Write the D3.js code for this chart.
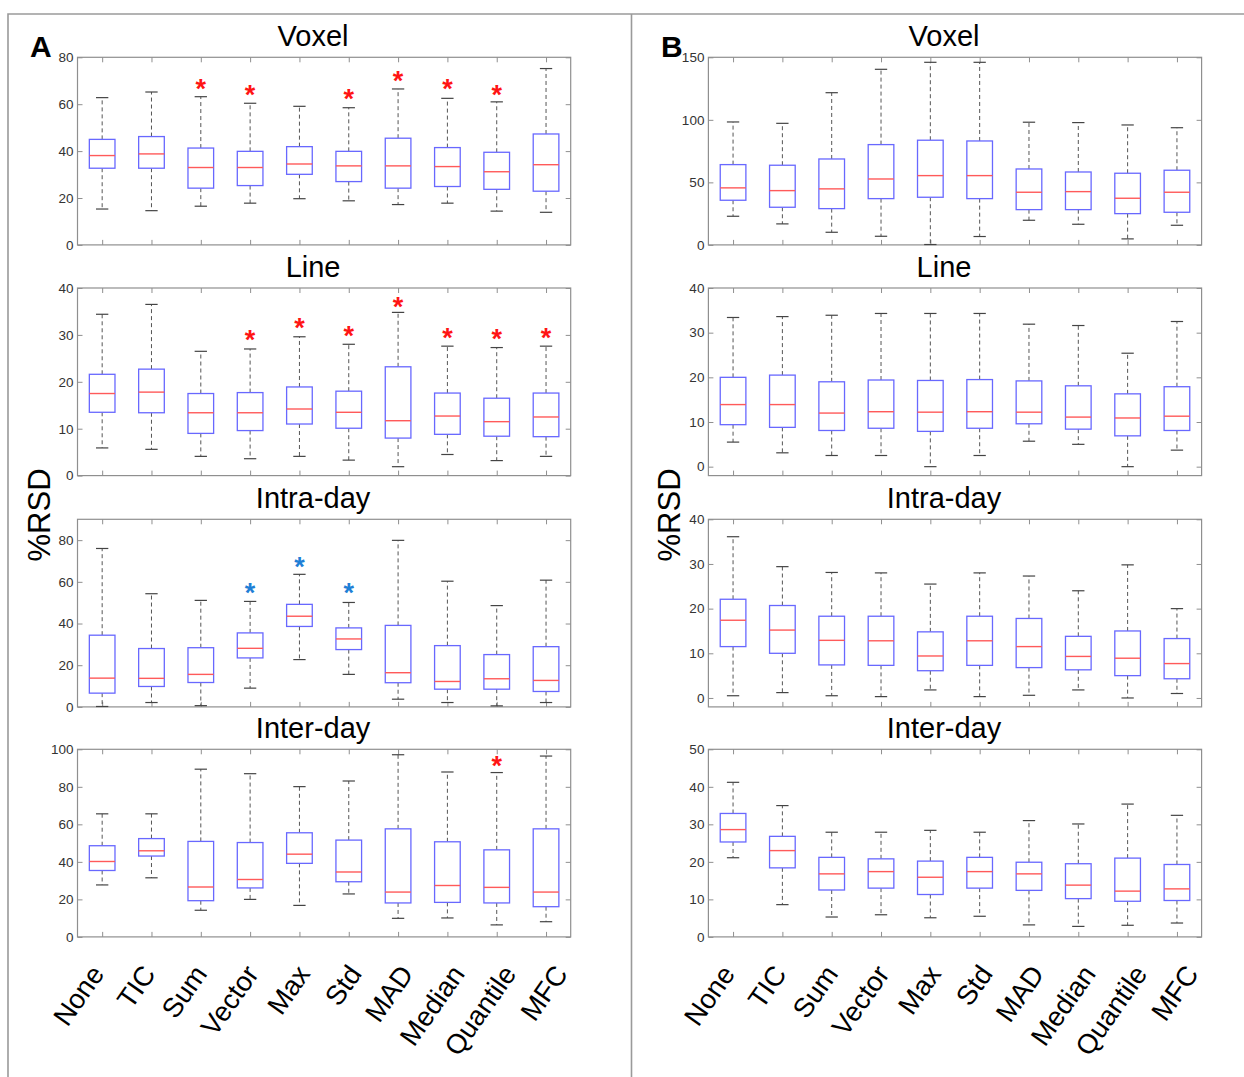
<!DOCTYPE html>
<html>
<head>
<meta charset="utf-8">
<script src="https://cdn.jsdelivr.net/npm/d3@7"></script>
<style>
  body { margin: 0; background: #fff; }
  svg { display: block; }
  text { font-family: "Liberation Sans", Arial, Helvetica, sans-serif; }
</style>
</head>
<body>
<svg id="chart"></svg>
<script>
var categories = ["None", "TIC", "Sum", "Vector", "Max", "Std", "MAD", "Median", "Quantile", "MFC"];
var rowTitles = ["Voxel", "Line", "Intra-day", "Inter-day"];

// each entry: [whisker low, Q1, median, Q3, whisker high]
var aVoxel = [[15.3, 32.7, 38.1, 45.0, 62.8], [14.6, 32.7, 38.8, 46.2, 65.2], [16.5, 24.2, 33.0, 41.3, 63.2],
  [17.8, 25.3, 33.0, 39.9, 60.4], [19.7, 30.1, 34.5, 41.9, 59.1], [18.8, 27.0, 33.7, 39.9, 58.5],
  [17.2, 24.2, 33.7, 45.5, 66.5], [17.8, 24.9, 33.4, 41.5, 62.5], [14.4, 23.7, 31.2, 39.5, 61.0],
  [13.9, 22.9, 34.2, 47.3, 75.2]];
var aLine = [[5.9, 13.5, 17.5, 21.6, 34.4], [5.6, 13.4, 17.8, 22.7, 36.5], [4.1, 9.0, 13.4, 17.5, 26.5],
  [3.6, 9.6, 13.4, 17.7, 27.0], [4.1, 11.0, 14.2, 18.9, 29.6], [3.3, 10.1, 13.5, 18.0, 28.0],
  [1.9, 8.0, 11.7, 23.2, 34.8], [4.5, 8.8, 12.7, 17.6, 27.6], [3.2, 8.4, 11.5, 16.5, 27.3],
  [4.1, 8.3, 12.5, 17.6, 27.6]];
var aIntra = [[0.2, 6.6, 13.8, 34.4, 76.0], [2.1, 9.8, 13.7, 28.0, 54.3], [0.6, 11.7, 15.6, 28.4, 51.1],
  [9.0, 23.5, 28.1, 35.5, 50.6], [22.7, 38.6, 43.5, 49.2, 63.6], [15.6, 27.5, 32.6, 37.9, 50.1],
  [3.7, 11.6, 16.4, 39.1, 79.9], [2.1, 8.5, 12.2, 29.4, 60.3], [0.5, 8.5, 13.5, 25.1, 48.6],
  [2.1, 7.4, 12.7, 28.9, 60.8]];
var aInter = [[27.7, 35.4, 40.2, 48.6, 65.6], [31.5, 43.1, 45.9, 52.4, 65.6], [14.2, 19.3, 26.6, 50.9, 89.4],
  [20.0, 26.1, 30.6, 50.3, 87.0], [16.8, 39.2, 44.1, 55.5, 80.1], [22.9, 29.4, 34.6, 51.6, 83.1],
  [9.9, 18.1, 23.9, 57.6, 97.1], [10.1, 18.4, 27.4, 50.7, 87.9], [6.4, 18.1, 26.4, 46.4, 87.6],
  [8.1, 16.1, 23.9, 57.6, 96.4]];

var bVoxel = [[22.9, 35.7, 45.6, 64.2, 98.3], [16.8, 30.1, 43.4, 63.7, 97.2], [10.1, 29.0, 44.8, 68.7, 121.7],
  [6.9, 37.0, 52.7, 80.2, 140.4], [0.3, 38.1, 55.4, 83.7, 146.0], [6.7, 37.0, 55.4, 83.1, 146.0],
  [19.7, 28.2, 42.1, 60.7, 98.1], [16.5, 28.2, 42.6, 58.3, 97.8], [4.8, 25.0, 37.3, 57.3, 95.9],
  [15.7, 26.1, 42.1, 59.7, 93.7]];
var bLine = [[5.5, 9.4, 13.9, 20.0, 33.4], [3.1, 8.8, 13.9, 20.5, 33.6], [2.5, 8.1, 12.0, 19.0, 33.9],
  [2.5, 8.6, 12.3, 19.4, 34.3], [0.0, 7.9, 12.2, 19.3, 34.3], [2.5, 8.6, 12.3, 19.5, 34.3],
  [5.7, 9.6, 12.2, 19.2, 31.9], [5.0, 8.4, 11.1, 18.1, 31.6], [0.0, 6.9, 10.9, 16.3, 25.4],
  [3.7, 8.1, 11.3, 17.9, 32.5]];
var bIntra = [[0.5, 11.5, 17.4, 22.1, 36.1], [1.2, 10.0, 15.2, 20.7, 29.4], [0.5, 7.4, 12.9, 18.3, 28.1],
  [0.3, 7.3, 12.8, 18.3, 28.0], [1.8, 6.1, 9.4, 14.8, 25.5], [0.3, 7.3, 12.8, 18.3, 28.0],
  [0.6, 6.8, 11.5, 17.8, 27.3], [1.8, 6.3, 9.3, 13.8, 24.0], [0.0, 5.0, 8.9, 15.0, 29.8],
  [1.0, 4.3, 7.7, 13.3, 20.0]];
var bInter = [[21.1, 25.3, 28.6, 32.9, 41.2], [8.6, 18.4, 23.0, 26.8, 35.0], [5.3, 12.5, 16.8, 21.2, 27.9],
  [5.9, 13.0, 17.4, 20.8, 27.9], [5.1, 11.3, 15.9, 20.2, 28.4], [5.5, 13.0, 17.4, 21.2, 27.9],
  [3.2, 12.4, 16.8, 19.9, 31.0], [2.8, 10.2, 13.8, 19.5, 30.1], [3.1, 9.5, 12.2, 21.0, 35.4],
  [3.7, 9.7, 12.8, 19.3, 32.4]];

// significance markers (value where the asterisk sits, null = none)
var aVoxelStars = [null, null, 69, 66.8, null, 64.9, 72.5, 69, 66.8, null];
var aLineStars = [null, null, null, 30.2, 32.8, 31.2, 37.4, 30.7, 30.4, 30.7];
var aIntraStars = [null, null, null, 57.5, 70.4, 57.5, null, null, null, null];
var aInterStars = [null, null, null, null, null, null, null, null, 94.7, null];

// y tick labels
var aVoxelTicks = [0, 20, 40, 60, 80];
var aLineTicks = [0, 10, 20, 30, 40];
var aIntraTicks = [0, 20, 40, 60, 80];
var aInterTicks = [0, 20, 40, 60, 80, 100];
var bVoxelTicks = [0, 50, 100, 150];
var bLineTicks = [0, 10, 20, 30, 40];
var bIntraTicks = [0, 10, 20, 30, 40];
var bInterTicks = [0, 10, 20, 30, 40, 50];

var red = "#ff1414", blue = "#1f7fd6";

var panels = [
  { letter: "A", left: 77.5, rows: [
    { data: aVoxel, stars: aVoxelStars, starColor: red, domain: [0, 80], ticks: aVoxelTicks },
    { data: aLine, stars: aLineStars, starColor: red, domain: [0, 40], ticks: aLineTicks },
    { data: aIntra, stars: aIntraStars, starColor: blue, domain: [0, 90], ticks: aIntraTicks },
    { data: aInter, stars: aInterStars, starColor: red, domain: [0, 100], ticks: aInterTicks }
  ]},
  { letter: "B", left: 708.4, rows: [
    { data: bVoxel, stars: null, domain: [0, 150], ticks: bVoxelTicks },
    { data: bLine, stars: null, domain: [-2, 40], ticks: bLineTicks },
    { data: bIntra, stars: null, domain: [-2, 40], ticks: bIntraTicks },
    { data: bInter, stars: null, domain: [0, 50], ticks: bInterTicks }
  ]}
];

var W = 1244, H = 1077;
var plotW = 493.2, plotH = 187.6;
var tops = [57.3, 288, 519.3, 749.3];
var frameColor = "#8f8f8f";

var svg = d3.select("#chart").attr("width", W).attr("height", H);

// outer figure frame
svg.append("path")
  .attr("d", "M8,1077V14H1244M631.5,14V1077")
  .attr("fill", "none")
  .attr("stroke", "#9a9a9a")
  .attr("stroke-width", 1.6);

panels.forEach(function (p) {
  var x = d3.scalePoint().domain(categories).range([p.left, p.left + plotW]).padding(0.5);
  var step = x.step();
  var boxW = step * 0.52, capW = step * 0.25;

  svg.append("text")
    .attr("x", p.left - 47.5)
    .attr("y", 57)
    .attr("font-size", 30)
    .attr("font-weight", "bold")
    .text(p.letter);

  svg.append("text")
    .attr("transform", "translate(" + (p.left - 28) + "," + 515 + ") rotate(-90)")
    .attr("text-anchor", "middle")
    .attr("font-size", 31)
    .text("%RSD");

  p.rows.forEach(function (r, ri) {
    var top = tops[ri], bottom = top + plotH;
    var y = d3.scaleLinear().domain(r.domain).range([bottom, top]);
    var g = svg.append("g");

    g.append("text")
      .attr("x", p.left + plotW / 2 - 11)
      .attr("y", top - 11)
      .attr("text-anchor", "middle")
      .attr("font-size", 29)
      .text(rowTitles[ri]);

    g.append("rect")
      .attr("x", p.left).attr("y", top)
      .attr("width", plotW).attr("height", plotH)
      .attr("fill", "#fff")
      .attr("stroke", frameColor)
      .attr("stroke-width", 1.2);

    var yl = g.append("g").attr("transform", "translate(" + p.left + ",0)")
      .call(d3.axisLeft(y).tickValues(r.ticks).tickSize(-5).tickSizeOuter(0).tickPadding(4));
    var yr = g.append("g").attr("transform", "translate(" + (p.left + plotW) + ",0)")
      .call(d3.axisRight(y).tickValues(r.ticks).tickSize(-5).tickSizeOuter(0).tickFormat(""));
    var xb = g.append("g").attr("transform", "translate(0," + bottom + ")")
      .call(d3.axisBottom(x).tickSize(-5).tickSizeOuter(0).tickFormat(""));
    var xt = g.append("g").attr("transform", "translate(0," + top + ")")
      .call(d3.axisTop(x).tickSize(-5).tickSizeOuter(0).tickFormat(""));
    [yl, yr, xb, xt].forEach(function (a) {
      a.select(".domain").remove();
      a.selectAll("line").attr("stroke", frameColor);
    });
    yl.selectAll("text")
      .attr("font-size", 13.5)
      .attr("fill", "#333")
      .attr("font-family", "\"Liberation Sans\", Arial, sans-serif");

    var box = g.selectAll(".box")
      .data(r.data)
      .enter().append("g")
      .attr("class", "box")
      .attr("transform", function (d, i) { return "translate(" + x(categories[i]) + ",0)"; });

    // whiskers
    box.append("line")
      .attr("y1", function (d) { return y(d[3]); })
      .attr("y2", function (d) { return y(d[4]); })
      .attr("stroke", "#555").attr("stroke-dasharray", "4,3");
    box.append("line")
      .attr("y1", function (d) { return y(d[1]); })
      .attr("y2", function (d) { return y(d[0]); })
      .attr("stroke", "#555").attr("stroke-dasharray", "4,3");
    // caps
    box.append("line")
      .attr("x1", -capW / 2).attr("x2", capW / 2)
      .attr("y1", function (d) { return y(d[4]); })
      .attr("y2", function (d) { return y(d[4]); })
      .attr("stroke", "#444").attr("stroke-width", 1.2);
    box.append("line")
      .attr("x1", -capW / 2).attr("x2", capW / 2)
      .attr("y1", function (d) { return y(d[0]); })
      .attr("y2", function (d) { return y(d[0]); })
      .attr("stroke", "#444").attr("stroke-width", 1.2);
    // box
    box.append("rect")
      .attr("x", -boxW / 2)
      .attr("y", function (d) { return y(d[3]); })
      .attr("width", boxW)
      .attr("height", function (d) { return y(d[1]) - y(d[3]); })
      .attr("fill", "#fff")
      .attr("stroke", "#6868ff")
      .attr("stroke-width", 1.3);
    // median
    box.append("line")
      .attr("x1", -boxW / 2).attr("x2", boxW / 2)
      .attr("y1", function (d) { return y(d[2]); })
      .attr("y2", function (d) { return y(d[2]); })
      .attr("stroke", "#ff5a5a").attr("stroke-width", 1.4);

    if (r.stars) {
      r.stars.forEach(function (v, i) {
        if (v == null) return;
        g.append("text")
          .attr("x", x(categories[i]))
          .attr("y", y(v))
          .attr("dy", "0.57em")
          .attr("text-anchor", "middle")
          .attr("font-size", 27)
          .attr("font-weight", "bold")
          .attr("fill", r.starColor)
          .text("*");
      });
    }

    if (ri === rowTitles.length - 1) {
      g.selectAll(".xlab")
        .data(categories)
        .enter().append("text")
        .attr("class", "xlab")
        .attr("transform", function (d, i) {
          return "translate(" + (x(d) + 3 + 2.2 * i) + "," + (bottom + 37) + ") rotate(-55)";
        })
        .attr("text-anchor", "end")
        .attr("font-size", 27.5)
        .text(function (d) { return d; });
    }
  });
});
</script>
</body>
</html>
